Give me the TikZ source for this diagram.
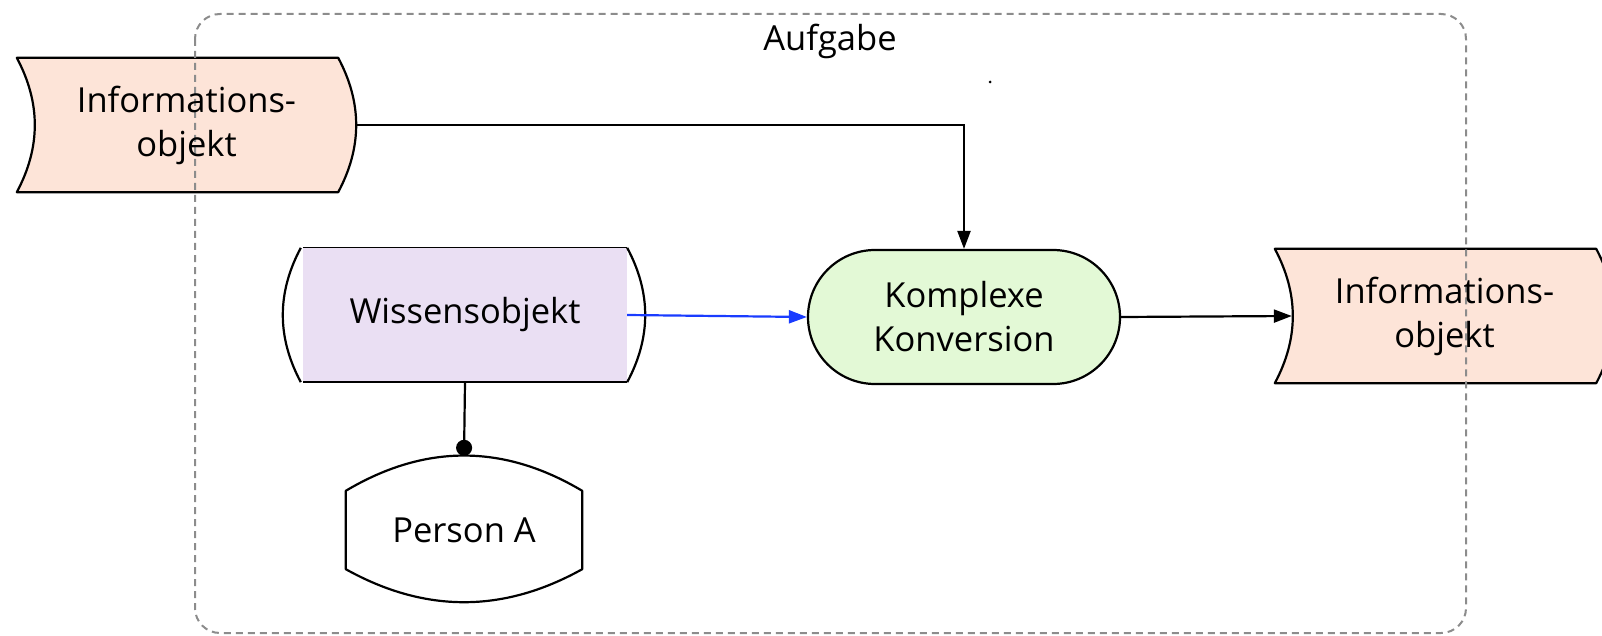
\documentclass[tikz,border=0pt]{standalone}
\usepackage{fontspec}
\setmainfont{Open Sans}
\usetikzlibrary{arrows.meta,backgrounds,calc}
\definecolor{infofill}{HTML}{FDE4D8}
\definecolor{konvfill}{HTML}{E3F9D6}
\definecolor{wissfill}{HTML}{EADFF3}
\definecolor{blueline}{HTML}{1A3CFF}

\begin{document}
\begin{tikzpicture}[x=1pt,y=-1pt,
                    font=\fontsize{34.5}{44}\selectfont,
                    box/.style={minimum height=134pt,inner sep=0pt,align=center},
                    outline/.style={line width=2.2pt,line join=round},
                    conn/.style={line width=2.2pt,-{Triangle[length=18pt,width=13pt]}}
                    ]
    \useasboundingbox (0,0) rectangle (1602,636);
    % Aufgabe
    \draw[gray!110!black,line width=2pt,dash pattern=on 7pt off 5pt,rounded corners=25pt]
        (195,14) rectangle (1466,633);
    \node (aufgabe) at (830,41) {Aufgabe};
    \fill (990,82) circle[radius=1.5pt];

    \node[box,minimum width=339pt] (info1) at (186.5,125) {Informations-\\objekt};
    \node[box,minimum width=324pt,fill=wissfill] (wissen) at (465,315) {Wissensobjekt};
    \node[box,minimum width=312pt,fill=konvfill,draw,line width=2.2pt,rounded corners=67pt] (konv) at (964,317) {Komplexe\\Konversion};
    \node[box,minimum width=339pt] (info2) at (1444.5,316) {Informations-\\objekt};
    \node[box,minimum width=236pt,minimum height=78pt] (person) at (464,530) {Person A};
    \coordinate (ptop) at ($(person.north)+(0,-35)$);

    \begin{pgfonlayer}{background}
    \foreach \n in {info1,info2}
        \filldraw[outline,fill=infofill] (\n.north west) -- ([xshift=-18pt]\n.north east)
            .. controls +(24,45) and +(24,-45) .. ([xshift=-18pt]\n.south east) -- (\n.south west)
            .. controls +(24,-45) and +(24,45) .. cycle;
    \end{pgfonlayer}
    \draw[line width=1pt] (wissen.north west) -- (wissen.north east);
    \draw[line width=1.5pt] (wissen.south west) -- (wissen.south east);
    \draw[outline] ([xshift=-2pt]wissen.north west) .. controls +(-24,45) and +(-24,-45) .. ([xshift=-2pt]wissen.south west);
    \draw[outline] (wissen.north east) .. controls +(24,45) and +(24,-45) .. (wissen.south east);
    \draw[outline] (person.north west) .. controls +(79,-47) and +(-79,-47) .. (person.north east)
        -- (person.south east) .. controls +(-79,44) and +(79,44) .. (person.south west) -- cycle;

    \draw[conn] (info1.east) -| (konv.north);
    \draw[conn,blueline] (wissen.east) -- (konv.west);
    \draw[conn] (konv.east) -- ([xshift=17pt]info2.west);
    \draw[line width=2.2pt,-{Circle[length=16pt]}] (wissen.south) -- (ptop);
    \end{tikzpicture}
\end{document}
